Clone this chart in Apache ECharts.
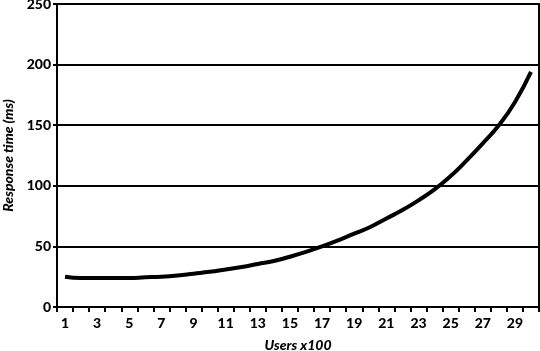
<!DOCTYPE html>
<html>
<head>
<meta charset="utf-8">
<script src="https://cdn.jsdelivr.net/npm/echarts@6/dist/echarts.min.js"></script>
<style>
html,body{margin:0;padding:0;background:#fff;}
#c{width:540px;height:351px;}
</style>
</head>
<body>
<div id="c"></div>
<script>
const categories = ['1','2','3','4','5','6','7','8','9','10','11','12','13','14','15','16','17','18','19','20','21','22','23','24','25','26','27','28','29','30'];
const responseTime = [25,24,24,24,24,24.5,25,26,27.5,29,31,33,35.5,38,41.5,45.5,50,55,60.5,66,73,80,88,97,108,121,135,150,169,194];
const yTicks = {min:0, max:250, interval:50};
const xTitle = 'Users x100';
const yTitle = 'Response time (ms)';

const FONT = 'Lato, "Liberation Sans", sans-serif';
const chart = echarts.init(document.getElementById('c'), null, {renderer:'canvas'});
chart.setOption({
  animation:false,
  backgroundColor:'#fff',
  grid:{left:57, right:1, top:4, bottom:44, outerBoundsMode:'none', containLabel:false, show:true, borderColor:'#000', borderWidth:2, backgroundColor:'transparent'},
  xAxis:{
    type:'category',
    data:categories,
    boundaryGap:true,
    name:xTitle,
    nameLocation:'middle',
    nameGap:31,
    nameTextStyle:{fontFamily:FONT, fontWeight:900, fontStyle:'italic', fontSize:14, color:'#000'},
    axisLine:{lineStyle:{color:'#000', width:2}},
    axisTick:{show:true, interval:0, length:5, lineStyle:{color:'#000', width:2}},
    axisLabel:{interval:1, fontFamily:FONT, fontWeight:900, fontSize:14, color:'#000', margin:9},
    splitLine:{show:false}
  },
  yAxis:{
    type:'value',
    min:yTicks.min, max:yTicks.max, interval:yTicks.interval,
    name:yTitle,
    nameLocation:'middle',
    nameGap:37,
    nameTextStyle:{fontFamily:FONT, fontWeight:900, fontStyle:'italic', fontSize:14, color:'#000'},
    axisLine:{show:true, lineStyle:{color:'#000', width:2}},
    axisTick:{show:true, length:4, lineStyle:{color:'#000', width:2}},
    axisLabel:{fontFamily:FONT, fontWeight:900, fontSize:14, color:'#000', margin:6},
    splitLine:{show:true, lineStyle:{color:'#000', width:2}}
  },
  series:[{
    type:'line',
    data:responseTime,
    smooth:true,
    symbol:'none',
    lineStyle:{color:'#000', width:4}
  }]
});
</script>
</body>
</html>
